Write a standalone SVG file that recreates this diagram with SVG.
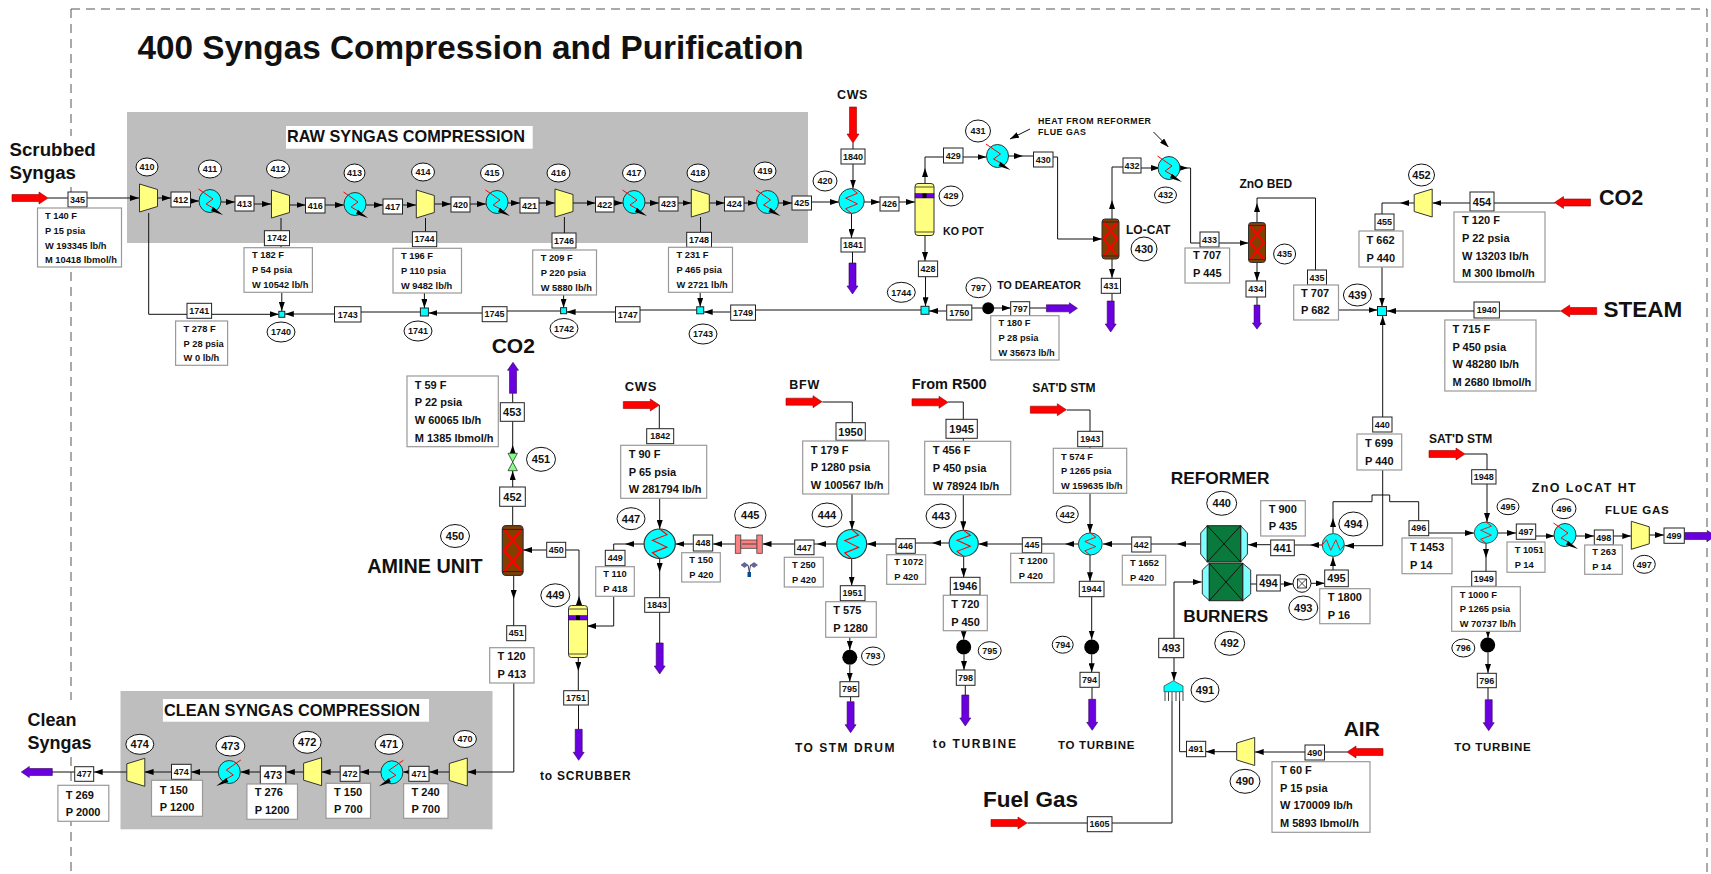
<svg xmlns="http://www.w3.org/2000/svg" width="1711" height="874" viewBox="0 0 1711 874">
<style>
text{font-family:"Liberation Sans",Arial,sans-serif;font-weight:700;fill:#111}
.s rect{fill:#fff;stroke:#222;stroke-width:1}
.s text,.t text{text-anchor:middle;font-size:9px}
.S text{font-size:11px}
.t ellipse{fill:#fff;stroke:#111;stroke-width:1}
.T text{font-size:11px}
.d rect{fill:#fff;stroke:#999;stroke-width:1.2}
.d text{font-size:9.3px}
.D text{font-size:11px}
.panel{fill:#bebebe}
.c path{fill:none;stroke:#111;stroke-width:1}
.h path{marker-end:url(#a)}
.comp{fill:#ffff80;stroke:#333;stroke-width:1}
.red{fill:#f00;stroke:#900;stroke-width:.6}
.pur{fill:#6a00e0;stroke:#305;stroke-width:.6}
.pump{fill:#000}
.mix{fill:#00ffff;stroke:#222;stroke-width:1}
</style>
<defs>
<marker id="a" markerUnits="userSpaceOnUse" markerWidth="9" markerHeight="6" refX="9" refY="3" orient="auto"><path d="M0 0L9 3L0 6z" fill="#000"/></marker>
<path id="comp" class="comp" d="M-9-14L9-8.5V8.500L-9 14Z"/>
<path id="arR" d="M0-3.500H27V-6L36 0L27 6V3.500H0Z"/>
<path id="arP" d="M0-3.500H23V-5.500L31 0L23 5.500V3.500H0Z"/>
<g id="cool"><ellipse rx="11" ry="11.500" fill="#0ff" stroke="#333"/><path d="M-11.500-12L3-2L-4 3L5 8" fill="none" stroke="#f00"/><path d="M3 6L13 14L1 10Z" fill="#000"/></g>
<g id="hx"><ellipse rx="13" ry="13" fill="#0ff" stroke="#333"/><path d="M0-13L6-8L-6-3L6 3L-6 8L0 13" fill="none" stroke="#f00"/></g>
<g id="ko"><rect x="-9.500" y="-26" width="19" height="52" rx="3" fill="#ffff80" stroke="#333"/><path d="M-9.500-22.500H9.500M-9.500 22.500H9.500" stroke="#222" fill="none" stroke-width=".8"/><rect x="-9.500" y="-16" width="19" height="4.500" fill="#6a00e0" stroke="#305" stroke-width=".5"/><rect x="-2" y="-16" width="4" height="4.500" fill="#000"/></g>
<g id="bed"><rect x="-8.500" y="-20" width="17" height="40" rx="3" fill="#804000" stroke="#333"/><path d="M-7-17L7 0L-7 17M7-17L-7 0L7 17" fill="none" stroke="#f00" stroke-width="2"/><path d="M-8.500-17H8.500M-8.500 17H8.500" stroke="#222" stroke-width=".8"/></g>
</defs>
<rect id="bg" width="1711" height="874" fill="#fff"/>
<rect id="raw-panel" class="panel" x="127" y="112" width="681" height="131"/>
<rect id="clean-panel" class="panel" x="120.500" y="691" width="372" height="138.300"/>
<path id="frame" d="M71 9H1707V874M71 9V136M71 187V192M71 272V700M71 757V874" fill="none" stroke="#555" stroke-width="1" stroke-dasharray="9 6"/>

<g id="connectors" class="c">
<path d="M48 198H68M1560.600 311H1499.400M1555 203H1494M853 143V149M852.500 252V263M925 168V157H943.500M1023 156H1033.500M1112 200V167H1123M1188 168H1190.600V243H1200M1257 203V198H1315.500V270M1257 297V305M1400 203H1382V214M1333 518V501.700H1372V495H1389.700V501.700H1418.700V520.700M1465 454H1487V469.700M1486 558V571.300M1488 687.700V699.700M1310 545H1294.300M1177 544H1151M1065 544H1041.700M932 543H915.300M817 544H814M625 544H613.700V550.300M579 596V550H565.700M512.700 525.700V506.300M512.700 445V421.300M512.700 402.700V393.300M513.700 599V626M659.300 405V428.700M659.700 572V597.700M659.700 612.300V643M948 402H963.300V419.300M963.300 438.300V441M822.300 402H852.300V422.700M852 440.300V441M851.700 600.700V601.700M850.600 696.700V701.700M1066.700 410H1090V431.300M1090 446.700V448.300M1092 687.300V699.300M1172 701V823H1112M1087.300 823H1027.300M1179.600 701V751.700H1186.500M1347 752H1324.500M1250 584H1256.700M148.700 213V314.300H187M425 312H361M560.600 311H507M700 310H640M921 310H755.500M982 308H971.800M1029.700 308H1046.400M281 218V230.700M281 245.700V247.700M425.500 218V231.700M564.400 217V233M700.500 217V232.300M74.700 772H52M965.300 685.300V695M578.300 671V690.700M578.500 705V729.300M1112 293.300V301"/>
<g class="h"><path d="M87 198H139"/><path d="M158 198H171"/><path d="M190.500 201H199"/><path d="M221 202H235"/><path d="M254 204H271"/><path d="M290 205H305.500"/><path d="M325 205H344"/><path d="M366 205H383"/><path d="M402.500 205H416"/><path d="M434.500 204H451"/><path d="M470 204H486"/><path d="M508 203H520"/><path d="M539 203H555"/><path d="M573 203H595.500"/><path d="M614 203H623"/><path d="M645 203H659"/><path d="M678 203H691.500"/><path d="M709 203H724.500"/><path d="M744 203H756.500"/><path d="M778.500 203H792"/><path d="M811.500 202H839"/><path d="M864 202H880"/><path d="M899 202H915"/><path d="M853 164V188.500"/><path d="M851.500 213.500V238"/><path d="M925 183V168"/><path d="M963 157H986.500"/><path d="M1008.500 156H1023"/><path d="M1053 157H1057.600V239H1102"/><path d="M1112 219V200"/><path d="M1141 168H1160"/><path d="M1178 168H1188"/><path d="M1219 243H1248.500"/><path d="M1257 223V203"/><path d="M1257 262V281"/><path d="M1338.500 310H1377.500"/><path d="M1382 267V306.500"/><path d="M1414 203H1400"/><path d="M1470 203H1432.400"/><path d="M1474 311H1387"/><path d="M1382.700 417V316"/><path d="M1382.700 470V545.700H1345"/><path d="M1333 533V518"/><path d="M1428.700 533H1474"/><path d="M1487 484V522"/><path d="M1497.700 533H1516"/><path d="M1535.700 536H1554.500"/><path d="M1575.500 536H1594"/><path d="M1613.300 536H1631.300"/><path d="M1649.300 535H1664"/><path d="M1486 543.500V558"/><path d="M1488 631V638"/><path d="M1488 652.500V673"/><path d="M1322 545H1310"/><path d="M1270.700 544.700H1248"/><path d="M1200.700 544H1177"/><path d="M1131.700 544H1103"/><path d="M1078.300 544H1065"/><path d="M1022.300 544H978.500"/><path d="M949 543H932"/><path d="M896 544H867"/><path d="M836.700 544H817"/><path d="M794.700 544H762.500"/><path d="M735.300 544H713"/><path d="M693.300 544H675.400"/><path d="M644 544H625"/><path d="M613.700 596.300V626H587"/><path d="M546.700 550H523"/><path d="M579 605.700V596"/><path d="M512.700 487V471"/><path d="M512.700 453V445"/><path d="M513.700 575V599"/><path d="M513.800 683V772H467.300"/><path d="M449.400 772H429"/><path d="M408.800 772H403"/><path d="M381 772H360"/><path d="M340 772H321.600"/><path d="M303.700 772H285.800"/><path d="M260 772H240.500"/><path d="M218 772H191"/><path d="M171.500 772H144.600"/><path d="M127 772H93.700"/><path d="M659.700 498.300V529"/><path d="M659.700 558.400V572"/><path d="M963.300 494.700V530.300"/><path d="M963.700 556.300V577.300"/><path d="M963.700 630.700V639.500"/><path d="M964 654.500V670"/><path d="M852 494V529.500"/><path d="M851.700 558.500V585.700"/><path d="M849.800 637.300V650"/><path d="M849.800 665V681.700"/><path d="M1090 493.300V533"/><path d="M1090 555V581.300"/><path d="M1091.700 596.700V639.500"/><path d="M1091.700 654.500V672.300"/><path d="M1174 638.300V582H1201.700"/><path d="M1174 657.700V680.700"/><path d="M1236.700 751.700H1205.700"/><path d="M1305 752H1254.700"/><path d="M1280.300 584H1293"/><path d="M1311 583.300H1324.700"/><path d="M1333 570V557"/><path d="M211.600 314.300H278.800"/><path d="M334.500 314H284.800"/><path d="M482 313H428.400"/><path d="M615.500 312H566.600"/><path d="M730.700 312H703.700"/><path d="M946.700 311H929"/><path d="M281.800 292.300V311"/><path d="M424.400 293V308"/><path d="M563.600 295V307.700"/><path d="M700.200 292.300V306.800"/><path d="M925 236V261"/><path d="M925.500 276.700V306.300"/><path d="M994 308H1010.700"/><path d="M1112 259V278"/><path d="M1030 129L1010 139"/><path d="M1153.500 132L1168.400 147"/><path d="M578.300 657.300V671"/></g>
</g>

<g id="title"><text x="137.500" y="59" font-size="33.300">400 Syngas Compression and Purification</text></g>
<g id="label-raw"><rect x="286" y="126" width="246.700" height="22.700" fill="#fff"/><text x="287" y="142.300" font-size="16.300">RAW SYNGAS COMPRESSION</text></g>
<g id="label-clean"><rect x="162.900" y="699" width="266.100" height="22.700" fill="#fff"/><text x="164" y="716" font-size="16.300">CLEAN SYNGAS COMPRESSION</text></g>
<g id="labels">
<text x="9.500" y="156" font-size="18.700">Scrubbed</text><text x="9.500" y="179" font-size="18.700">Syngas</text>
<text x="27.500" y="726" font-size="18">Clean</text><text x="27.500" y="748.700" font-size="18">Syngas</text>
<text x="837" y="99" font-size="12.500" letter-spacing=".6">CWS</text>
<text x="943" y="235" font-size="10.600">KO POT</text>
<text x="1038" y="124" font-size="8.800" letter-spacing=".5">HEAT FROM REFORMER</text><text x="1038" y="135" font-size="8.800" letter-spacing=".5">FLUE GAS</text>
<text x="1126" y="234" font-size="12">LO-CAT</text>
<text x="1239.400" y="188" font-size="12">ZnO BED</text>
<text x="1599" y="205" font-size="21.500">CO2</text>
<text x="1603.600" y="317" font-size="22.500">STEAM</text>
<text x="997.300" y="289.300" font-size="10.600">TO DEAREATOR</text>
<text x="491.700" y="353.300" font-size="21">CO2</text>
<text x="367.300" y="572.700" font-size="19.800">AMINE UNIT</text>
<text x="624.700" y="391.300" font-size="13" letter-spacing=".7">CWS</text>
<text x="789.300" y="389" font-size="12.500" letter-spacing=".8">BFW</text>
<text x="911.700" y="389" font-size="14.500">From R500</text>
<text x="1032.300" y="391.700" font-size="12">SAT'D STM</text>
<text x="1429" y="443" font-size="12">SAT'D STM</text>
<text x="1170.700" y="484" font-size="17.300">REFORMER</text>
<text x="1183.300" y="621.700" font-size="17.200">BURNERS</text>
<text x="1531.700" y="492" font-size="12.500" letter-spacing="1.400">ZnO LoCAT HT</text>
<text x="1605" y="514" font-size="11.500" letter-spacing=".8">FLUE GAS</text>
<text x="1454.300" y="751" font-size="11.500" letter-spacing=".7">TO TURBINE</text>
<text x="1058" y="749" font-size="11.500" letter-spacing=".7">TO TURBINE</text>
<text x="932.700" y="748" font-size="12" letter-spacing="1.700">to TURBINE</text>
<text x="795" y="752" font-size="12" letter-spacing="1.500">TO STM DRUM</text>
<text x="540" y="780" font-size="12" letter-spacing=".8">to SCRUBBER</text>
<text x="983" y="807" font-size="22.500">Fuel Gas</text>
<text x="1343.700" y="736" font-size="21">AIR</text>
</g>

<g id="arrows">
<use href="#arR" class="red" transform="translate(12,198)"/><use href="#arR" class="red" transform="translate(853,107) rotate(90)"/><use href="#arR" class="red" transform="translate(1590.500,202.500) rotate(180)"/><use href="#arR" class="red" transform="translate(1596.700,311) rotate(180)"/><use href="#arR" class="red" transform="translate(623.300,405)"/><use href="#arR" class="red" transform="translate(786,401.700)"/><use href="#arR" class="red" transform="translate(912,402.300)"/><use href="#arR" class="red" transform="translate(1030.300,409.700)"/><use href="#arR" class="red" transform="translate(1429,454)"/><use href="#arR" class="red" transform="translate(991,823)"/><use href="#arR" class="red" transform="translate(1383,752) rotate(180)"/>
<use href="#arP" class="pur" transform="translate(852.500,263) rotate(90)"/><use href="#arP" class="pur" transform="translate(1110.700,301) rotate(90)"/><use href="#arP" class="pur" transform="translate(1257,305) rotate(90) scale(.78,.85)"/><use href="#arP" class="pur" transform="translate(1046.400,308.300)"/><use href="#arP" class="pur" transform="translate(513,393.300) rotate(-90)"/><use href="#arP" class="pur" transform="translate(659.700,643) rotate(90)"/><use href="#arP" class="pur" transform="translate(578.700,729.300) rotate(90)"/><use href="#arP" class="pur" transform="translate(850.600,701.700) rotate(90)"/><use href="#arP" class="pur" transform="translate(965.300,695) rotate(90)"/><use href="#arP" class="pur" transform="translate(1092.200,699.300) rotate(90)"/><use href="#arP" class="pur" transform="translate(1488.700,699.700) rotate(90)"/><use href="#arP" class="pur" transform="translate(1684.300,536)"/><use href="#arP" class="pur" transform="translate(52.300,772) rotate(180)"/>
</g>

<g id="eq-c410"><use href="#comp" x="148.500" y="198"/></g>
<g id="eq-c412"><use href="#comp" x="280.500" y="204"/></g>
<g id="eq-c414"><use href="#comp" x="425.300" y="204"/></g>
<g id="eq-c416"><use href="#comp" x="564" y="203"/></g>
<g id="eq-c418"><use href="#comp" x="700.300" y="203"/></g>
<g id="eq-c452"><use href="#comp" transform="translate(1423.200,203) scale(-1,1)"/></g>
<g id="eq-c497"><use href="#comp" x="1640.300" y="535.300"/></g>
<g id="eq-c490"><use href="#comp" transform="translate(1245.700,751.500) scale(-1,1)"/></g>
<g id="eq-c470"><use href="#comp" transform="translate(458.300,772) scale(-1,1)"/></g>
<g id="eq-c472"><use href="#comp" transform="translate(312.600,771.700) scale(-1,1)"/></g>
<g id="eq-c474"><use href="#comp" transform="translate(135.800,772.300) scale(-1,1)"/></g>

<g id="eq-e411"><use href="#cool" x="210" y="201"/></g>
<g id="eq-e413"><use href="#cool" x="355" y="204"/></g>
<g id="eq-e415"><use href="#cool" x="497" y="202"/></g>
<g id="eq-e417"><use href="#cool" x="634" y="202"/></g>
<g id="eq-e419"><use href="#cool" x="767.500" y="202"/></g>
<g id="eq-e431"><use href="#cool" x="997.500" y="156"/></g>
<g id="eq-e432"><use href="#cool" x="1169" y="168"/></g>
<g id="eq-e496"><use href="#cool" x="1565" y="535"/></g>
<g id="eq-e471"><use href="#cool" transform="translate(391.900,772.300) scale(-1,1)"/></g>
<g id="eq-e473"><use href="#cool" transform="translate(229.300,772) scale(-1,1)"/></g>

<g id="eq-x420"><use href="#hx" transform="translate(851.500,201) scale(.98,.96)"/></g>
<g id="eq-x447"><use href="#hx" transform="translate(659.700,543.700) scale(1.2,1.13)"/></g>
<g id="eq-x444"><use href="#hx" transform="translate(851.700,544) scale(1.15,1.12)"/></g>
<g id="eq-x443"><use href="#hx" transform="translate(963.700,543.300) scale(1.12,1)"/></g>
<g id="eq-x442"><use href="#hx" transform="translate(1090.300,544) scale(.92,.85)"/></g>
<g id="eq-x495"><use href="#hx" transform="translate(1486,532.700) scale(.9,.82)"/></g>
<g id="eq-x494"><use href="#hx" transform="translate(1333.300,545) rotate(90) scale(.88,.85)"/></g>

<g id="eq-v429"><use href="#ko" x="924.500" y="209.500"/></g>
<g id="eq-v449"><use href="#ko" x="578" y="631.500"/></g>
<g id="eq-r430"><use href="#bed" x="1110.500" y="239"/></g>
<g id="eq-r435"><use href="#bed" x="1257" y="242.500"/></g>
<g id="eq-r450"><use href="#bed" transform="translate(512.700,550.500) scale(1.22,1.24)"/></g>

<g id="eq-m1740"><rect class="mix" x="278.800" y="311.300" width="6" height="6"/></g>
<g id="eq-m1741"><rect class="mix" x="420.400" y="308" width="8" height="8"/></g>
<g id="eq-m1742"><rect class="mix" x="560.600" y="307.700" width="6" height="6"/></g>
<g id="eq-m1743"><rect class="mix" x="696.700" y="306.800" width="7" height="7"/></g>
<g id="eq-m1744"><rect class="mix" x="921" y="306.300" width="8" height="8"/></g>
<g id="eq-m439"><rect class="mix" x="1377.500" y="306.500" width="9" height="9"/></g>

<g id="eq-p797"><circle class="pump" cx="988.200" cy="308.300" r="6"/></g>
<g id="eq-p793"><circle class="pump" cx="849.800" cy="657.300" r="7.500"/></g>
<g id="eq-p795"><circle class="pump" cx="963.700" cy="647" r="7.500"/></g>
<g id="eq-p794"><circle class="pump" cx="1091.700" cy="647" r="7.500"/></g>
<g id="eq-p796"><circle class="pump" cx="1487.700" cy="645" r="7.500"/></g>

<g id="eq-valve451"><path d="M508 453.300H517.400L512.700 462L517.400 470.700H508L512.700 462Z" fill="#80ff80" stroke="#333" stroke-width=".8"/></g>
<g id="eq-filter445"><rect x="735.300" y="535" width="5.500" height="18.300" fill="#ff8080" stroke="#444" stroke-width=".8"/><rect x="756.800" y="535" width="5.500" height="18.300" fill="#ff8080" stroke="#444" stroke-width=".8"/><rect x="740.800" y="540" width="16" height="8.300" fill="#ff8080" stroke="#444" stroke-width=".8"/><path d="M742 544H756" stroke="#444" fill="none"/></g>
<g id="eq-icon445"><path d="M741 565L744.500 562.500L748 565L744.500 567.500ZM750.500 565L754 562.500L757.500 565L754 567.500Z" fill="#6464a8" stroke="#446" stroke-width=".5"/><path d="M748 565L749.300 572M750.500 565L749.300 572" stroke="#446" fill="none"/><rect x="747.500" y="572" width="3.500" height="5" fill="#0a4a90"/></g>
<g id="eq-blower493"><circle cx="1302" cy="583.300" r="9" fill="#fff" stroke="#111"/><rect x="1297.500" y="579" width="9" height="9" fill="#fff" stroke="#111" stroke-width=".8"/><path d="M1297.500 579L1306.500 588M1306.500 579L1297.500 588" stroke="#111" stroke-width=".8" fill="none"/></g>
<g id="eq-manifold491"><path d="M1165 691.700V701M1168.500 691.700V701M1172 691.700V701M1176 691.700V701M1179.600 691.700V701M1183 691.700V701" stroke="#444" fill="none"/><path d="M1164 691.700V686L1173.500 680.700L1183 686V691.700Z" fill="#0ff" stroke="#444" stroke-width=".8"/></g>
<g id="eq-reformer440"><path d="M1207.300 525.700L1200.700 533V554L1207.300 562ZM1240.700 525.700L1247.400 533V554L1240.700 562Z" fill="#80ffff" stroke="#333"/><rect x="1207.300" y="525.700" width="33.400" height="36.300" fill="#0a7a3c" stroke="#222"/><path d="M1207.300 525.700L1240.700 562M1240.700 525.700L1207.300 562" stroke="#111" fill="none"/></g>
<g id="eq-burners492"><path d="M1209.300 563.300L1202.300 570V594L1209.300 600.700ZM1242.700 563.300L1250.700 570V594L1242.700 600.700Z" fill="#80ffff" stroke="#333"/><rect x="1209.300" y="563.300" width="33.400" height="37.400" fill="#0a7a3c" stroke="#222"/><path d="M1209.300 563.300L1242.700 600.700M1242.700 563.300L1209.300 600.700" stroke="#111" fill="none"/></g>

<g id="s345" class="s"><rect x="68" y="192" width="19" height="15"/><text x="77.500" y="202.700">345</text></g>
<g id="s412" class="s"><rect x="171" y="192" width="19.500" height="15"/><text x="180.700" y="202.700">412</text></g>
<g id="s413" class="s"><rect x="235" y="196" width="19" height="15"/><text x="244.500" y="206.700">413</text></g>
<g id="s416" class="s"><rect x="305.500" y="198" width="19.500" height="15"/><text x="315.200" y="208.700">416</text></g>
<g id="s417" class="s"><rect x="383" y="199" width="19.500" height="15"/><text x="392.700" y="209.700">417</text></g>
<g id="s420" class="s"><rect x="451" y="197" width="19" height="15"/><text x="460.500" y="207.700">420</text></g>
<g id="s421" class="s"><rect x="520" y="198" width="19" height="15"/><text x="529.500" y="208.700">421</text></g>
<g id="s422" class="s"><rect x="595.500" y="197" width="18.500" height="15"/><text x="604.700" y="207.700">422</text></g>
<g id="s423" class="s"><rect x="659" y="197" width="19" height="14"/><text x="668.500" y="207.200">423</text></g>
<g id="s424" class="s"><rect x="724.500" y="197" width="19.500" height="14"/><text x="734.200" y="207.200">424</text></g>
<g id="s425" class="s"><rect x="792" y="196" width="19.500" height="14"/><text x="801.700" y="206.200">425</text></g>
<g id="s426" class="s"><rect x="880" y="197" width="19" height="14"/><text x="889.500" y="207.200">426</text></g>
<g id="s429" class="s"><rect x="943.500" y="148" width="19.500" height="15"/><text x="953.200" y="158.700">429</text></g>
<g id="s430" class="s"><rect x="1033.500" y="152" width="19.500" height="15"/><text x="1043.200" y="162.700">430</text></g>
<g id="s432" class="s"><rect x="1123" y="158" width="18" height="15"/><text x="1132" y="168.700">432</text></g>
<g id="s433" class="s"><rect x="1200" y="232" width="19" height="15"/><text x="1209.500" y="242.700">433</text></g>
<g id="s434" class="s"><rect x="1246" y="281" width="19.600" height="16"/><text x="1255.800" y="292.200">434</text></g>
<g id="s431" class="s"><rect x="1101.300" y="278.300" width="19.200" height="15"/><text x="1110.900" y="289">431</text></g>
<g id="s428" class="s"><rect x="918.400" y="261" width="19.200" height="15.700"/><text x="928" y="272">428</text></g>
<g id="s435" class="s"><rect x="1307.500" y="270" width="19" height="15"/><text x="1317" y="280.700">435</text></g>
<g id="s455" class="s"><rect x="1375" y="214" width="19" height="16"/><text x="1384.500" y="225.200">455</text></g>
<g id="s454" class="s S"><rect x="1470" y="192" width="24" height="19"/><text x="1482" y="205.500">454</text></g>
<g id="s1940" class="s"><rect x="1474" y="302" width="25.400" height="16"/><text x="1486.700" y="313.200">1940</text></g>
<g id="s440" class="s"><rect x="1372.700" y="417" width="19.300" height="15"/><text x="1382.300" y="427.700">440</text></g>
<g id="s1840" class="s"><rect x="841" y="149" width="24" height="15"/><text x="853" y="159.700">1840</text></g>
<g id="s1841" class="s"><rect x="841" y="238" width="24" height="14"/><text x="853" y="248.200">1841</text></g>
<g id="s1741" class="s"><rect x="187" y="303.300" width="24.600" height="15"/><text x="199.300" y="314">1741</text></g>
<g id="s1742" class="s"><rect x="264.400" y="230.700" width="25.100" height="15"/><text x="277" y="241.400">1742</text></g>
<g id="s1743" class="s"><rect x="334.500" y="306.700" width="26.500" height="15.300"/><text x="347.700" y="317.500">1743</text></g>
<g id="s1744" class="s"><rect x="412.400" y="231.700" width="24.300" height="15"/><text x="424.500" y="242.400">1744</text></g>
<g id="s1745" class="s"><rect x="482.200" y="306.700" width="24.800" height="15"/><text x="494.600" y="317.400">1745</text></g>
<g id="s1746" class="s"><rect x="552" y="233" width="24" height="15"/><text x="564" y="243.700">1746</text></g>
<g id="s1747" class="s"><rect x="615.500" y="306.700" width="24.500" height="15.300"/><text x="627.700" y="317.500">1747</text></g>
<g id="s1748" class="s"><rect x="686.700" y="232.300" width="24.800" height="15"/><text x="699.100" y="243">1748</text></g>
<g id="s1749" class="s"><rect x="730.700" y="305" width="24.800" height="15.300"/><text x="743.100" y="315.800">1749</text></g>
<g id="s1750" class="s"><rect x="946.700" y="305" width="25.100" height="15"/><text x="959.200" y="315.700">1750</text></g>
<g id="s797" class="s"><rect x="1010.700" y="301.700" width="19" height="15"/><text x="1020.200" y="312.400">797</text></g>
<g id="s453" class="s S"><rect x="500.300" y="402.700" width="24" height="18.600"/><text x="512.300" y="416">453</text></g>
<g id="s452" class="s S"><rect x="499.700" y="487" width="25.600" height="19.300"/><text x="512.500" y="500.600">452</text></g>
<g id="s451" class="s"><rect x="506.700" y="625.700" width="19" height="15"/><text x="516.200" y="636.400">451</text></g>
<g id="s450" class="s"><rect x="546.700" y="542.300" width="19" height="15"/><text x="556.200" y="553">450</text></g>
<g id="s449" class="s"><rect x="605.300" y="550.300" width="19.700" height="15.400"/><text x="615.200" y="561.200">449</text></g>
<g id="s1751" class="s"><rect x="563.700" y="690.700" width="24.600" height="14.300"/><text x="576" y="701">1751</text></g>
<g id="s1842" class="s"><rect x="646.700" y="428.700" width="27" height="15"/><text x="660.200" y="439.400">1842</text></g>
<g id="s1843" class="s"><rect x="644.700" y="597.700" width="24.600" height="14.600"/><text x="657" y="608.200">1843</text></g>
<g id="s448" class="s"><rect x="693.300" y="535" width="19.400" height="16"/><text x="703" y="546.200">448</text></g>
<g id="s447" class="s"><rect x="794.700" y="540" width="19.300" height="14.700"/><text x="804.300" y="550.500">447</text></g>
<g id="s446" class="s"><rect x="896" y="538.700" width="19.300" height="14.600"/><text x="905.600" y="549.200">446</text></g>
<g id="s445" class="s"><rect x="1022.300" y="537.700" width="19.400" height="15"/><text x="1032" y="548.400">445</text></g>
<g id="s442" class="s"><rect x="1131.700" y="537" width="19.300" height="15"/><text x="1141.300" y="547.700">442</text></g>
<g id="s1950" class="s S"><rect x="836" y="422.700" width="29.300" height="17.600"/><text x="850.600" y="435.500">1950</text></g>
<g id="s1945" class="s S"><rect x="946" y="419.300" width="31.300" height="19"/><text x="961.600" y="432.800">1945</text></g>
<g id="s1943" class="s"><rect x="1077.700" y="431.300" width="25" height="15.400"/><text x="1090.200" y="442.200">1943</text></g>
<g id="s1951" class="s"><rect x="840.300" y="585.700" width="24.700" height="15"/><text x="852.600" y="596.400">1951</text></g>
<g id="s1946" class="s S"><rect x="950.300" y="577.300" width="29.700" height="17.700"/><text x="965.100" y="590.200">1946</text></g>
<g id="s1944" class="s"><rect x="1079.300" y="581.300" width="24.700" height="15.400"/><text x="1091.600" y="592.200">1944</text></g>
<g id="s795" class="s"><rect x="840" y="681.700" width="18.800" height="15"/><text x="849.400" y="692.400">795</text></g>
<g id="s798" class="s"><rect x="956.300" y="670" width="18.700" height="15.300"/><text x="965.600" y="680.800">798</text></g>
<g id="s794" class="s"><rect x="1080" y="672.300" width="19.200" height="15"/><text x="1089.600" y="683">794</text></g>
<g id="s796" class="s"><rect x="1477.300" y="673.300" width="19" height="14.400"/><text x="1486.800" y="683.700">796</text></g>
<g id="s441" class="s S"><rect x="1270.700" y="540" width="23.600" height="15.700"/><text x="1282.500" y="551.800">441</text></g>
<g id="s494" class="s S"><rect x="1256.700" y="575" width="23.600" height="16"/><text x="1268.500" y="587">494</text></g>
<g id="s495" class="s S"><rect x="1324.700" y="570" width="23.600" height="16.700"/><text x="1336.500" y="582.300">495</text></g>
<g id="s496" class="s"><rect x="1409" y="520.700" width="19.700" height="15"/><text x="1418.800" y="531.400">496</text></g>
<g id="s1948" class="s"><rect x="1471.700" y="469.700" width="24.300" height="14.300"/><text x="1483.800" y="480.100">1948</text></g>
<g id="s1949" class="s"><rect x="1471.700" y="571.300" width="24.300" height="15"/><text x="1483.800" y="582">1949</text></g>
<g id="s497" class="s"><rect x="1516.300" y="524" width="19.400" height="15.300"/><text x="1526" y="534.800">497</text></g>
<g id="s498" class="s"><rect x="1594.300" y="530" width="19" height="15"/><text x="1603.800" y="540.700">498</text></g>
<g id="s499" class="s"><rect x="1664" y="528" width="20.300" height="15.300"/><text x="1674.100" y="538.800">499</text></g>
<g id="s493" class="s S"><rect x="1158.700" y="638.300" width="25" height="19.400"/><text x="1171.200" y="651.900">493</text></g>
<g id="s491" class="s"><rect x="1186.500" y="741.300" width="19.200" height="15.400"/><text x="1196.100" y="752.200">491</text></g>
<g id="s490" class="s"><rect x="1305" y="745" width="19.500" height="15"/><text x="1314.700" y="755.700">490</text></g>
<g id="s1605" class="s"><rect x="1087.300" y="816.700" width="24.700" height="15"/><text x="1099.600" y="827.400">1605</text></g>
<g id="s471" class="s"><rect x="408.800" y="766.300" width="20.200" height="15"/><text x="418.900" y="777">471</text></g>
<g id="s472" class="s"><rect x="340.200" y="766" width="19.700" height="15.300"/><text x="350" y="776.800">472</text></g>
<g id="s473" class="s S"><rect x="260.300" y="766" width="25.500" height="18"/><text x="273" y="779">473</text></g>
<g id="s474" class="s"><rect x="171.500" y="764.300" width="19.600" height="15"/><text x="181.300" y="775">474</text></g>
<g id="s477" class="s"><rect x="74.700" y="766.700" width="19" height="14.600"/><text x="84.200" y="777.200">477</text></g>

<g id="d345" class="d"><rect x="37.500" y="208" width="84" height="59"/><text x="45" y="219">T 140 F</text><text x="45" y="234">P 15 psia</text><text x="45" y="249">W 193345 lb/h</text><text x="45" y="263">M 10418 lbmol/h</text></g>
<g id="d1742" class="d"><rect x="244" y="247.700" width="68.400" height="44.600"/><text x="252" y="258.300">T 182 F</text><text x="252" y="273.300">P 54 psia</text><text x="252" y="288">W 10542 lb/h</text></g>
<g id="d1744" class="d"><rect x="393" y="248.300" width="68.500" height="44.700"/><text x="401" y="259.300">T 196 F</text><text x="401" y="274.300">P 110 psia</text><text x="401" y="288.700">W 9482 lb/h</text></g>
<g id="d1746" class="d"><rect x="532.700" y="250" width="63.800" height="45"/><text x="540.700" y="261.300">T 209 F</text><text x="540.700" y="276.300">P 220 psia</text><text x="540.700" y="291">W 5880 lb/h</text></g>
<g id="d1748" class="d"><rect x="668.500" y="247.300" width="64" height="45"/><text x="676.500" y="258.300">T 231 F</text><text x="676.500" y="273.300">P 465 psia</text><text x="676.500" y="288">W 2721 lb/h</text></g>
<g id="d1741" class="d"><rect x="175.600" y="321" width="52" height="44.300"/><text x="183.600" y="332.300">T 278 F</text><text x="183.600" y="347.300">P 28 psia</text><text x="183.600" y="361">W 0 lb/h</text></g>
<g id="d797" class="d"><rect x="990.700" y="315.700" width="68.300" height="44.300"/><text x="998.400" y="326">T 180 F</text><text x="998.400" y="341">P 28 psia</text><text x="998.400" y="356">W 35673 lb/h</text></g>
<g id="d433" class="d D"><rect x="1185" y="248" width="44.600" height="35"/><text x="1193" y="259">T 707</text><text x="1193" y="277">P 445</text></g>
<g id="d435" class="d D"><rect x="1293.700" y="285" width="44.800" height="35"/><text x="1301" y="297">T 707</text><text x="1301" y="314">P 682</text></g>
<g id="d455" class="d D"><rect x="1359" y="231" width="44" height="36"/><text x="1366.500" y="244">T 662</text><text x="1366.500" y="262">P 440</text></g>
<g id="d454" class="d D"><rect x="1454" y="212" width="91" height="70"/><text x="1462" y="224">T 120 F</text><text x="1462" y="242">P 22 psia</text><text x="1462" y="260">W 13203 lb/h</text><text x="1462" y="277">M 300 lbmol/h</text></g>
<g id="d1940" class="d D"><rect x="1444.800" y="320" width="91.200" height="71"/><text x="1452.400" y="333">T 715 F</text><text x="1452.400" y="351">P 450 psia</text><text x="1452.400" y="368">W 48280 lb/h</text><text x="1452.400" y="386">M 2680 lbmol/h</text></g>
<g id="d440" class="d D"><rect x="1357" y="434" width="44.700" height="36"/><text x="1365" y="446.700">T 699</text><text x="1365" y="464.700">P 440</text></g>
<g id="d453" class="d D"><rect x="407" y="376" width="91.300" height="70.700"/><text x="414.700" y="388.700">T 59 F</text><text x="414.700" y="406">P 22 psia</text><text x="414.700" y="424">W 60065 lb/h</text><text x="414.700" y="441.700">M 1385 lbmol/h</text></g>
<g id="d1842" class="d D"><rect x="620.700" y="445.300" width="86" height="53"/><text x="628.700" y="458">T 90 F</text><text x="628.700" y="476">P 65 psia</text><text x="628.700" y="493">W 281794 lb/h</text></g>
<g id="d449" class="d"><rect x="595.700" y="566.700" width="38.600" height="29.600"/><text x="603.300" y="576.700">T 110</text><text x="603.300" y="591.700">P 418</text></g>
<g id="d448" class="d"><rect x="681.700" y="552.700" width="38.600" height="29.300"/><text x="689.300" y="563">T 150</text><text x="689.300" y="578">P 420</text></g>
<g id="d447" class="d"><rect x="784.300" y="557.300" width="39" height="29.700"/><text x="792" y="568">T 250</text><text x="792" y="583">P 420</text></g>
<g id="d446" class="d"><rect x="886.700" y="554.700" width="39" height="29.600"/><text x="894.300" y="565">T 1072</text><text x="894.300" y="580">P 420</text></g>
<g id="d445" class="d"><rect x="1010.700" y="553.300" width="43.300" height="29.400"/><text x="1018.700" y="563.700">T 1200</text><text x="1018.700" y="578.700">P 420</text></g>
<g id="d442" class="d"><rect x="1122.300" y="555.300" width="43.400" height="29.700"/><text x="1130" y="565.700">T 1652</text><text x="1130" y="580.700">P 420</text></g>
<g id="d1950" class="d D"><rect x="802.700" y="441" width="86" height="53"/><text x="810.700" y="453.700">T 179 F</text><text x="810.700" y="471">P 1280 psia</text><text x="810.700" y="488.700">W 100567 lb/h</text></g>
<g id="d1945" class="d D"><rect x="924.700" y="441.300" width="86" height="53.400"/><text x="932.700" y="453.700">T 456 F</text><text x="932.700" y="471.700">P 450 psia</text><text x="932.700" y="489.700">W 78924 lb/h</text></g>
<g id="d1943" class="d"><rect x="1053.300" y="448.300" width="73.400" height="45"/><text x="1061" y="459.700">T 574 F</text><text x="1061" y="474">P 1265 psia</text><text x="1061" y="488.700">W 159635 lb/h</text></g>
<g id="d1951" class="d D"><rect x="825.700" y="601.700" width="50.600" height="35.600"/><text x="833.300" y="614">T 575</text><text x="833.300" y="632">P 1280</text></g>
<g id="d1946" class="d D"><rect x="943.300" y="595.300" width="44" height="35.400"/><text x="951.300" y="608">T 720</text><text x="951.300" y="626">P 450</text></g>
<g id="d441" class="d D"><rect x="1260.700" y="500.700" width="44.600" height="35.300"/><text x="1268.700" y="513.300">T 900</text><text x="1268.700" y="530.300">P 435</text></g>
<g id="d495" class="d D"><rect x="1319.700" y="588.700" width="50.300" height="35"/><text x="1327.700" y="600.700">T 1800</text><text x="1327.700" y="618.700">P 16</text></g>
<g id="d496" class="d D"><rect x="1402" y="538" width="50" height="35.700"/><text x="1410" y="550.700">T 1453</text><text x="1410" y="568.700">P 14</text></g>
<g id="d497" class="d"><rect x="1507" y="542" width="38" height="30.300"/><text x="1514.700" y="553.300">T 1051</text><text x="1514.700" y="568">P 14</text></g>
<g id="d498" class="d"><rect x="1584.700" y="545" width="37.600" height="29.300"/><text x="1592.300" y="555">T 263</text><text x="1592.300" y="570">P 14</text></g>
<g id="d1949" class="d"><rect x="1451.700" y="586.700" width="68.600" height="44.600"/><text x="1459.700" y="597.700">T 1000 F</text><text x="1459.700" y="612">P 1265 psia</text><text x="1459.700" y="626.700">W 70737 lb/h</text></g>
<g id="d490" class="d D"><rect x="1272" y="761.700" width="98" height="70.600"/><text x="1280" y="774.300">T 60 F</text><text x="1280" y="791.700">P 15 psia</text><text x="1280" y="809.300">W 170009 lb/h</text><text x="1280" y="826.700">M 5893 lbmol/h</text></g>
<g id="d451" class="d D"><rect x="489.700" y="647.700" width="44.300" height="35.300"/><text x="497.600" y="660">T 120</text><text x="497.600" y="677.700">P 413</text></g>
<g id="d471" class="d D"><rect x="403.600" y="783.700" width="44.400" height="34.600"/><text x="411.500" y="796">T 240</text><text x="411.500" y="813">P 700</text></g>
<g id="d472" class="d D"><rect x="326" y="783.300" width="44.500" height="35"/><text x="334" y="796">T 150</text><text x="334" y="813">P 700</text></g>
<g id="d473" class="d D"><rect x="246.900" y="784" width="50.600" height="35.300"/><text x="254.800" y="796.300">T 276</text><text x="254.800" y="814">P 1200</text></g>
<g id="d474" class="d D"><rect x="151.500" y="780.300" width="51" height="36"/><text x="159.800" y="794">T 150</text><text x="159.800" y="811">P 1200</text></g>
<g id="d477" class="d D"><rect x="57.900" y="785.300" width="50.900" height="36"/><text x="65.800" y="799">T 269</text><text x="65.800" y="816">P 2000</text></g>

<g id="t410" class="t"><ellipse cx="147" cy="167" rx="11" ry="9"/><text x="147" y="170.300">410</text></g>
<g id="t411" class="t"><ellipse cx="210" cy="169" rx="11.500" ry="9"/><text x="210" y="172.300">411</text></g>
<g id="t412" class="t"><ellipse cx="278" cy="169" rx="11.500" ry="9"/><text x="278" y="172.300">412</text></g>
<g id="t413" class="t"><ellipse cx="354.500" cy="173" rx="10.500" ry="9"/><text x="354.500" y="176.300">413</text></g>
<g id="t414" class="t"><ellipse cx="423" cy="172" rx="11.500" ry="9"/><text x="423" y="175.300">414</text></g>
<g id="t415" class="t"><ellipse cx="492" cy="173" rx="11.500" ry="9"/><text x="492" y="176.300">415</text></g>
<g id="t416" class="t"><ellipse cx="558.500" cy="173" rx="11.500" ry="9"/><text x="558.500" y="176.300">416</text></g>
<g id="t417" class="t"><ellipse cx="634" cy="173" rx="11.500" ry="9"/><text x="634" y="176.300">417</text></g>
<g id="t418" class="t"><ellipse cx="698" cy="173" rx="11" ry="9"/><text x="698" y="176.300">418</text></g>
<g id="t419" class="t"><ellipse cx="765" cy="171" rx="11" ry="9"/><text x="765" y="174.300">419</text></g>
<g id="t420" class="t"><ellipse cx="825" cy="181" rx="12" ry="10"/><text x="825" y="184.300">420</text></g>
<g id="t429" class="t"><ellipse cx="951" cy="196" rx="12" ry="10"/><text x="951" y="199.300">429</text></g>
<g id="t431" class="t"><ellipse cx="978" cy="131" rx="12.500" ry="11"/><text x="978" y="134.300">431</text></g>
<g id="t430" class="t T"><ellipse cx="1144" cy="249" rx="13" ry="12"/><text x="1144" y="253">430</text></g>
<g id="t432" class="t"><ellipse cx="1165.500" cy="195" rx="11" ry="8"/><text x="1165.500" y="198.300">432</text></g>
<g id="t435" class="t"><ellipse cx="1284.600" cy="254" rx="11" ry="10"/><text x="1284.600" y="257.300">435</text></g>
<g id="t452" class="t T"><ellipse cx="1421.500" cy="175" rx="13" ry="11"/><text x="1421.500" y="179">452</text></g>
<g id="t439" class="t T"><ellipse cx="1357.400" cy="295" rx="14" ry="11"/><text x="1357.400" y="299">439</text></g>
<g id="t1740" class="t"><ellipse cx="281" cy="332" rx="14" ry="10"/><text x="281" y="335.300">1740</text></g>
<g id="t1741" class="t"><ellipse cx="418" cy="331" rx="14" ry="10"/><text x="418" y="334.300">1741</text></g>
<g id="t1742" class="t"><ellipse cx="564" cy="328.500" rx="14" ry="10"/><text x="564" y="331.800">1742</text></g>
<g id="t1743" class="t"><ellipse cx="703" cy="334" rx="14" ry="10"/><text x="703" y="337.300">1743</text></g>
<g id="t1744" class="t"><ellipse cx="901.300" cy="292.300" rx="14" ry="10"/><text x="901.300" y="295.600">1744</text></g>
<g id="t797" class="t"><ellipse cx="978.400" cy="287.700" rx="12.500" ry="10"/><text x="978.400" y="291">797</text></g>
<g id="t451" class="t T"><ellipse cx="541" cy="459.300" rx="14.500" ry="12"/><text x="541" y="463.300">451</text></g>
<g id="t450" class="t T"><ellipse cx="455" cy="536" rx="14.500" ry="11.500"/><text x="455" y="540">450</text></g>
<g id="t449" class="t T"><ellipse cx="555.300" cy="595.300" rx="14.500" ry="11.500"/><text x="555.300" y="599.300">449</text></g>
<g id="t447" class="t T"><ellipse cx="631" cy="518.700" rx="14" ry="11"/><text x="631" y="522.700">447</text></g>
<g id="t445" class="t T"><ellipse cx="750.300" cy="515.300" rx="15.700" ry="12.700"/><text x="750.300" y="519.300">445</text></g>
<g id="t444" class="t T"><ellipse cx="827" cy="515" rx="15" ry="12"/><text x="827" y="519">444</text></g>
<g id="t443" class="t T"><ellipse cx="941" cy="516" rx="15" ry="12"/><text x="941" y="520">443</text></g>
<g id="t442" class="t"><ellipse cx="1067.300" cy="514.300" rx="11" ry="8.500"/><text x="1067.300" y="517.600">442</text></g>
<g id="t440" class="t T"><ellipse cx="1221.700" cy="503.300" rx="15" ry="12"/><text x="1221.700" y="507.300">440</text></g>
<g id="t492" class="t T"><ellipse cx="1229.700" cy="643.300" rx="15" ry="12"/><text x="1229.700" y="647.300">492</text></g>
<g id="t493" class="t T"><ellipse cx="1303.300" cy="608" rx="14.500" ry="12"/><text x="1303.300" y="612">493</text></g>
<g id="t494" class="t T"><ellipse cx="1353.300" cy="524" rx="14.500" ry="12"/><text x="1353.300" y="528">494</text></g>
<g id="t495" class="t"><ellipse cx="1508" cy="506.700" rx="11" ry="8"/><text x="1508" y="510">495</text></g>
<g id="t496" class="t"><ellipse cx="1564" cy="508.700" rx="12" ry="10"/><text x="1564" y="512">496</text></g>
<g id="t497" class="t"><ellipse cx="1644.300" cy="564.300" rx="11" ry="9"/><text x="1644.300" y="567.600">497</text></g>
<g id="t793" class="t"><ellipse cx="873" cy="656" rx="11.500" ry="9"/><text x="873" y="659.300">793</text></g>
<g id="t795" class="t"><ellipse cx="989.700" cy="650.700" rx="11.500" ry="9"/><text x="989.700" y="654">795</text></g>
<g id="t794" class="t"><ellipse cx="1062.700" cy="644.700" rx="10.500" ry="8.500"/><text x="1062.700" y="648">794</text></g>
<g id="t796" class="t"><ellipse cx="1463.300" cy="648" rx="11.500" ry="9"/><text x="1463.300" y="651.300">796</text></g>
<g id="t491" class="t T"><ellipse cx="1205" cy="690" rx="14" ry="12"/><text x="1205" y="694">491</text></g>
<g id="t490" class="t T"><ellipse cx="1245" cy="781.300" rx="15" ry="12"/><text x="1245" y="785.300">490</text></g>
<g id="t470" class="t"><ellipse cx="464.900" cy="739" rx="11.500" ry="8.500"/><text x="464.900" y="742.300">470</text></g>
<g id="t471" class="t T"><ellipse cx="389" cy="744.300" rx="14" ry="10"/><text x="389" y="748.300">471</text></g>
<g id="t472" class="t T"><ellipse cx="307.200" cy="742.300" rx="14" ry="11"/><text x="307.200" y="746.300">472</text></g>
<g id="t473" class="t T"><ellipse cx="230.400" cy="746" rx="14.500" ry="10"/><text x="230.400" y="750">473</text></g>
<g id="t474" class="t T"><ellipse cx="139.800" cy="744.300" rx="14" ry="10"/><text x="139.800" y="748.300">474</text></g>
</svg>
